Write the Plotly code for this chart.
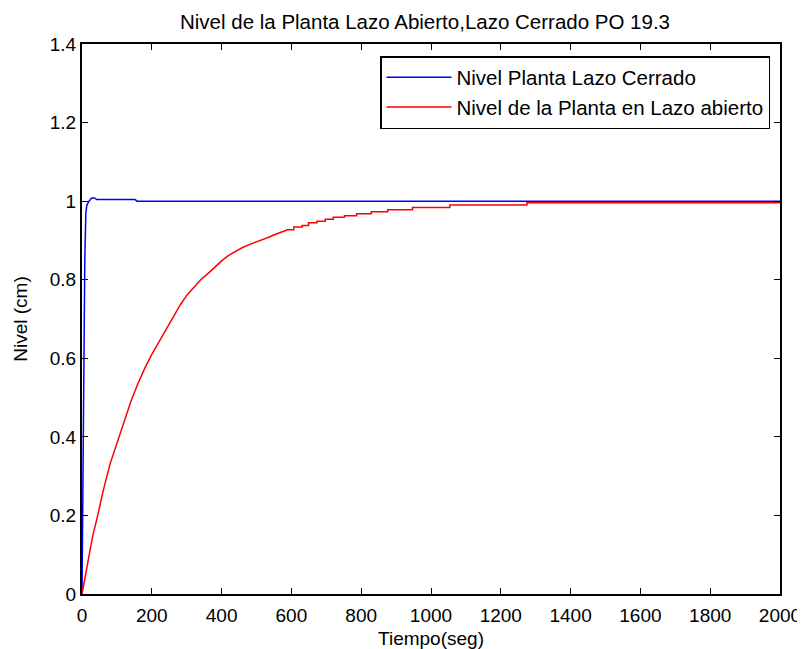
import plotly.graph_objects as go

# Closed-loop response (blue)
t_closed = [0, 2, 5, 8, 11, 14, 20, 28, 36, 42, 152, 158, 2000]
nivel_closed = [0, 0.25, 0.6, 0.85, 0.97, 0.99, 1.0, 1.008, 1.008, 1.004, 1.004, 1.0, 1.0]

# Open-loop response (red): smooth rise, then the solver's visible stair steps
t_open = [0, 10, 20, 30, 45, 60, 80, 100, 120, 140, 160, 180, 200, 223, 245, 265,
          281, 300, 320, 340, 360, 380, 400, 420, 440, 460, 481, 500, 517, 535,
          553, 570, 589,
          607, 607, 631, 631, 649, 649, 673, 673, 697, 697, 720, 720, 752, 752,
          787, 787, 829, 829, 876, 876, 947, 947, 1054, 1054, 1275, 1275, 2000]
nivel_open = [0, 0.05, 0.1, 0.145, 0.2, 0.26, 0.33, 0.385, 0.44, 0.49, 0.535, 0.575,
              0.61, 0.645, 0.68, 0.71, 0.735, 0.76, 0.78, 0.8, 0.815, 0.832, 0.848,
              0.862, 0.872, 0.882, 0.89, 0.896, 0.901, 0.908, 0.915, 0.921, 0.927,
              0.927, 0.934, 0.934, 0.938, 0.938, 0.945, 0.945, 0.949, 0.949, 0.954,
              0.954, 0.959, 0.959, 0.963, 0.963, 0.968, 0.968, 0.973, 0.973, 0.978,
              0.978, 0.984, 0.984, 0.99, 0.99, 0.996, 0.996]

x_ticks = [0, 200, 400, 600, 800, 1000, 1200, 1400, 1600, 1800, 2000]
y_ticks = [0, 0.2, 0.4, 0.6, 0.8, 1, 1.2, 1.4]
y_tick_labels = ["0", "0.2", "0.4", "0.6", "0.8", "1", "1.2", "1.4"]

FONT = "Arial, Liberation Sans, Helvetica, sans-serif"

# the page body adds an 8 px margin, so the figure is 8 px smaller on each axis
W, H = 797, 641

fig = go.Figure()
fig.add_trace(go.Scatter(x=t_closed, y=nivel_closed, mode="lines",
                         name="Nivel Planta Lazo Cerrado",
                         line=dict(color="#0000FF", width=1.5)))
fig.add_trace(go.Scatter(x=t_open, y=nivel_open, mode="lines",
                         name="Nivel de la Planta en Lazo abierto",
                         line=dict(color="#FF0000", width=1.5)))

axis_common = dict(showline=True, linecolor="black", linewidth=2, mirror="ticks",
                   ticks="inside", ticklen=6, tickwidth=1, tickcolor="black",
                   showgrid=False, zeroline=False, automargin=False,
                   tickfont=dict(family=FONT, size=19, color="black"))

fig.update_layout(
    width=W, height=H,
    margin=dict(l=74, r=25, t=36, b=55),
    paper_bgcolor="white", plot_bgcolor="white",
    font=dict(family=FONT, color="black"),
    title=dict(text="Nivel de la Planta Lazo Abierto,Lazo Cerrado PO 19.3",
               x=417 / W, xref="container", xanchor="center",
               y=1 - 14 / H, yref="container", yanchor="middle",
               font=dict(family=FONT, size=20.5, color="black")),
    xaxis=dict(range=[0, 2000], tickvals=x_ticks, ticklabelstandoff=3,
               title=dict(text="Tiempo(seg)", font=dict(family=FONT, size=19), standoff=11),
               **axis_common),
    yaxis=dict(range=[0, 1.4], tickvals=y_ticks, ticktext=y_tick_labels,
               title=dict(text="Nivel (cm)", font=dict(family=FONT, size=19), standoff=17),
               **axis_common),
    legend=dict(x=(770 - 82) / 698, y=(593.5 - 56) / 549.5, xanchor="right", yanchor="top",
                bgcolor="white", bordercolor="black", borderwidth=1.5,
                font=dict(family=FONT, size=20.5, color="black"),
                itemwidth=65, tracegroupgap=0),
    showlegend=True,
)

fig.write_html("out.html")
